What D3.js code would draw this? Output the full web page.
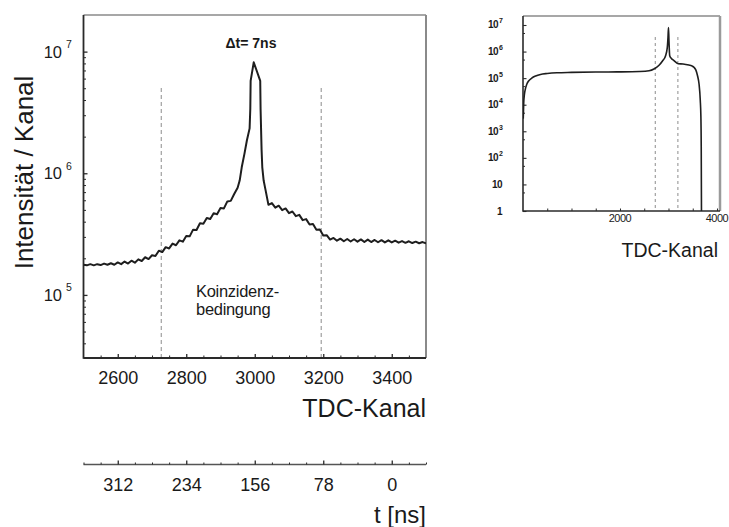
<!DOCTYPE html>
<html><head><meta charset="utf-8">
<script src="https://cdn.jsdelivr.net/npm/d3@7"></script>
<style>
html,body{margin:0;padding:0;background:#fff;}
svg text{font-family:"Liberation Sans",Arial,Helvetica,sans-serif;fill:#1a1a1a;}
</style></head>
<body><svg id="c" width="729" height="527"></svg>
<script>
// ---------- data ----------
const mainChannels = [2500,2510,2520,2530,2540,2550,2560,2570,2580,2590,2600,2610,2620,2630,2640,2650,2660,2670,2680,2690,2700,2710,2720,2730,2740,2750,2760,2770,2780,2790,2800,2810,2820,2830,2840,2850,2860,2870,2880,2890,2900,2910,2920,2930,2940,2950,2956,2962,2970,2977,2985,2987,2988,2997,3016,3017,3020,3022,3026,3031,3040,3050,3060,3070,3080,3090,3100,3110,3120,3130,3140,3150,3160,3170,3180,3190,3200,3210,3220,3230,3240,3250,3260,3270,3280,3290,3300,3310,3320,3330,3340,3350,3360,3370,3380,3390,3400,3410,3420,3430,3440,3450,3460,3470,3480,3490,3500];
const mainCounts = [1.77e5,1.75e5,1.79e5,1.75e5,1.79e5,1.76e5,1.81e5,1.77e5,1.82e5,1.77e5,1.85e5,1.79e5,1.88e5,1.81e5,1.91e5,1.84e5,1.96e5,1.90e5,2.04e5,1.97e5,2.12e5,2.09e5,2.31e5,2.25e5,2.47e5,2.41e5,2.64e5,2.56e5,2.81e5,2.74e5,3.05e5,3.03e5,3.44e5,3.42e5,3.88e5,3.84e5,4.29e5,4.21e5,4.70e5,4.61e5,5.18e5,5.14e5,5.87e5,5.93e5,6.76e5,7.60e5,8.71e5,1.12e6,1.45e6,1.86e6,2.34e6,3.39e6,5.75e6,8.17e6,5.75e6,3.39e6,1.55e6,1.12e6,8.71e5,7.41e5,5.50e5,5.69e5,5.21e5,5.41e5,4.98e5,5.14e5,4.70e5,4.85e5,4.44e5,4.55e5,4.12e5,4.20e5,3.79e5,3.83e5,3.43e5,3.45e5,3.08e5,3.10e5,2.85e5,2.94e5,2.79e5,2.90e5,2.76e5,2.88e5,2.75e5,2.87e5,2.74e5,2.86e5,2.72e5,2.85e5,2.72e5,2.83e5,2.71e5,2.82e5,2.70e5,2.81e5,2.70e5,2.79e5,2.69e5,2.77e5,2.68e5,2.76e5,2.67e5,2.74e5,2.66e5,2.72e5,2.65e5];

const insetChannels = [5,15,30,50,80,120,180,260,360,500,700,1000,1500,2000,2400,2600,2700,2800,2880,2940,2975,2990,3000,3010,3025,3060,3100,3200,3300,3420,3480,3530,3565,3600,3630,3655,3668,3675,3680];
const insetCounts = [3.0e3,1.2e4,2.5e4,4.0e4,6.0e4,8.0e4,1.0e5,1.2e5,1.38e5,1.5e5,1.6e5,1.65e5,1.7e5,1.72e5,1.78e5,1.9e5,2.2e5,3.0e5,4.5e5,7.0e5,1.4e6,3.5e6,8.0e6,2.5e6,7.0e5,5.5e5,4.8e5,3.5e5,3.4e5,3.1e5,2.9e5,2.5e5,2.0e5,1.2e5,6.0e4,1.5e4,3.5e3,2.6e2,1];

const cutChannels = [2727, 3194];           // Koinzidenzbedingung
const xTickLabels = [2600, 2800, 3000, 3200, 3400];
const yDecades = [5, 6, 7];
const timeTicks = [312, 234, 156, 78, 0];    // t [ns]
const insetYDecades = [0, 1, 2, 3, 4, 5, 6, 7];
const insetXTickLabels = [2000, 4000];

// ---------- layout ----------
const svg = d3.select("#c");
const M = {l: 83.5, r: 426, t: 15, b: 358};
const x = d3.scaleLinear().domain([2500, 3500]).range([M.l, M.r]);
const y = d3.scaleLog().domain([3.03e4, 2.0e7]).range([M.b, M.t]);
const tScale = d3.scaleLinear().domain([351, -39]).range([M.l, M.r]);

const I = {l: 523, r: 720, t: 16, b: 211};
const xi = d3.scaleLinear().domain([0, 4062]).range([I.l, I.r]);
const yi = d3.scaleLog().domain([1, 2.18e7]).range([I.b, I.t]);

const dark = "#2a2a2a";

function styleAxis(g, w) {
  g.select(".domain").remove();
  g.selectAll(".tick line").attr("stroke", dark).attr("stroke-width", w || 1);
}

// ---------- main plot ----------
svg.append("defs").append("clipPath").attr("id", "clipMain")
  .append("rect").attr("x", M.l).attr("y", M.t).attr("width", M.r - M.l).attr("height", M.b - M.t);
svg.select("defs").append("clipPath").attr("id", "clipInset")
  .append("rect").attr("x", I.l).attr("y", I.t).attr("width", I.r - I.l).attr("height", I.b - I.t);

// dashed cut lines
svg.append("g").selectAll("line").data(cutChannels).join("line")
  .attr("x1", d => x(d)).attr("x2", d => x(d))
  .attr("y1", 88).attr("y2", M.b)
  .attr("stroke", "#8c8c8c").attr("stroke-width", 1).attr("stroke-dasharray", "4,3");

// minor x ticks
const xMinor = d3.range(2550, 3500, 50).filter(v => !xTickLabels.includes(v));
const gxm = svg.append("g").attr("transform", `translate(0,${M.b})`)
  .call(d3.axisBottom(x).tickValues(xMinor).tickSize(-2.5).tickFormat(""));
styleAxis(gxm);
const gx = svg.append("g").attr("transform", `translate(0,${M.b})`)
  .call(d3.axisBottom(x).tickValues(xTickLabels).tickSize(-4).tickPadding(13).tickFormat(d3.format("d")));
styleAxis(gx, 1.3);
gx.selectAll("text").attr("font-size", 18).attr("fill", dark);

// y ticks
const yMinor = [];
[4, 5, 6].forEach(e => [2,3,4,5,6,7,8,9].forEach(m => { const v = m * Math.pow(10, e); if (v >= 3.03e4 && v <= 2e7) yMinor.push(v); }));
const gym = svg.append("g").attr("transform", `translate(${M.l},0)`)
  .call(d3.axisLeft(y).tickValues(yMinor).tickSize(-2.5).tickFormat(""));
styleAxis(gym);
const gy = svg.append("g").attr("transform", `translate(${M.l},0)`)
  .call(d3.axisLeft(y).tickValues(yDecades.map(e => Math.pow(10, e))).tickSize(-4).tickFormat(""));
styleAxis(gy, 1.3);
yDecades.forEach(e => {
  svg.append("text").attr("x", 62).attr("y", y(Math.pow(10, e)) + 6)
    .attr("text-anchor", "end").attr("font-size", 16.5).text("10");
  svg.append("text").attr("x", 66).attr("y", y(Math.pow(10, e)) - 3.5)
    .attr("font-size", 10.5).text(e);
});

// frame
svg.append("line").attr("x1", M.l).attr("x2", M.r).attr("y1", M.t).attr("y2", M.t).attr("stroke", "#8a8a8a").attr("stroke-width", 1.6);
svg.append("line").attr("x1", M.r).attr("x2", M.r).attr("y1", M.t).attr("y2", M.b).attr("stroke", "#8a8a8a").attr("stroke-width", 2);
svg.append("line").attr("x1", M.l).attr("x2", M.l).attr("y1", M.t).attr("y2", M.b + 0.8).attr("stroke", dark).attr("stroke-width", 1.8);
svg.append("line").attr("x1", M.l).attr("x2", M.r).attr("y1", M.b).attr("y2", M.b).attr("stroke", dark).attr("stroke-width", 1.8);

// curve
const mainData = d3.zip(mainChannels, mainCounts);
svg.append("path").datum(mainData)
  .attr("clip-path", "url(#clipMain)")
  .attr("fill", "none").attr("stroke", "#1e1e1e").attr("stroke-width", 2).attr("stroke-linejoin", "round")
  .attr("d", d3.line().x(d => x(d[0])).y(d => y(d[1])));

// annotations
svg.append("text").attr("x", 251).attr("y", 47.5).attr("text-anchor", "middle").attr("font-size", 14)
  .attr("font-weight", "bold").text("Δt= 7ns");
svg.append("text").attr("x", 196).attr("y", 297).attr("font-size", 16.5).attr("letter-spacing", -0.3).text("Koinzidenz-");
svg.append("text").attr("x", 196).attr("y", 315).attr("font-size", 16.5).attr("letter-spacing", -0.3).text("bedingung");

// axis titles
svg.append("text").attr("x", M.r).attr("y", 417).attr("text-anchor", "end").attr("font-size", 25).text("TDC-Kanal");
svg.append("text").attr("transform", `translate(33,172.5) rotate(-90)`).attr("text-anchor", "middle")
  .attr("font-size", 26).text("Intensität / Kanal");

// time axis
const tY = 464.5;
svg.append("line").attr("x1", M.l).attr("x2", M.r).attr("y1", tY).attr("y2", tY).attr("stroke", "#555").attr("stroke-width", 1.5);
const tMinor = d3.range(-39, 352, 19.5).map(v => +v.toFixed(1)).filter(v => !timeTicks.includes(v));
const gtm = svg.append("g").attr("transform", `translate(0,${tY})`)
  .call(d3.axisBottom(tScale).tickValues(tMinor).tickSize(-2).tickFormat(""));
styleAxis(gtm);
const gt = svg.append("g").attr("transform", `translate(0,${tY})`)
  .call(d3.axisBottom(tScale).tickValues(timeTicks).tickSize(-4).tickPadding(14).tickFormat(d3.format("d")));
styleAxis(gt, 1.3);
gt.selectAll("text").attr("font-size", 18).attr("fill", dark);
svg.append("text").attr("x", M.r).attr("y", 523).attr("text-anchor", "end").attr("font-size", 24).text("t [ns]");

// ---------- inset ----------
svg.append("g").selectAll("line").data(cutChannels).join("line")
  .attr("x1", d => xi(d)).attr("x2", d => xi(d))
  .attr("y1", 37).attr("y2", I.b)
  .attr("stroke", "#8c8c8c").attr("stroke-width", 1).attr("stroke-dasharray", "3,3");

const gix = svg.append("g").attr("transform", `translate(0,${I.b})`)
  .call(d3.axisBottom(xi).tickValues(d3.range(500, 4001, 500)).tickSize(-2.5).tickFormat(""));
styleAxis(gix);
insetXTickLabels.forEach(v => {
  svg.append("text").attr("x", xi(v)).attr("y", 222).attr("text-anchor", "middle")
    .attr("font-size", 11).attr("letter-spacing", -0.5).text(v);
});
const giyMinor = [];
insetYDecades.slice(0, -1).forEach(e => giyMinor.push(5 * Math.pow(10, e)));
const giym = svg.append("g").attr("transform", `translate(${I.l},0)`)
  .call(d3.axisLeft(yi).tickValues(giyMinor).tickSize(-2).tickFormat(""));
styleAxis(giym);
const giy = svg.append("g").attr("transform", `translate(${I.l},0)`)
  .call(d3.axisLeft(yi).tickValues(insetYDecades.map(e => Math.pow(10, e))).tickSize(-3.5).tickFormat(""));
styleAxis(giy, 1.1);
insetYDecades.forEach(e => {
  const yy = yi(Math.pow(10, e));
  if (e >= 2) {
    svg.append("text").attr("x", 498).attr("y", yy + 3.5).attr("text-anchor", "end")
      .attr("font-size", 10).attr("font-weight", "bold").attr("letter-spacing", -0.5).text("10");
    svg.append("text").attr("x", 499).attr("y", yy - 1.5).attr("font-size", 7).attr("font-weight", "bold").text(e);
  } else {
    svg.append("text").attr("x", 502).attr("y", yy + 3.5).attr("text-anchor", "end")
      .attr("font-size", 10).attr("font-weight", "bold").attr("letter-spacing", -0.5).text(e === 1 ? "10" : "1");
  }
});

svg.append("line").attr("x1", I.l).attr("x2", I.r).attr("y1", I.t).attr("y2", I.t).attr("stroke", "#8a8a8a").attr("stroke-width", 1.4);
svg.append("line").attr("x1", I.r).attr("x2", I.r).attr("y1", I.t).attr("y2", I.b).attr("stroke", "#9a9a9a").attr("stroke-width", 2.5);
svg.append("line").attr("x1", I.l).attr("x2", I.l).attr("y1", I.t).attr("y2", I.b + 0.7).attr("stroke", dark).attr("stroke-width", 1.6);
svg.append("line").attr("x1", I.l).attr("x2", I.r).attr("y1", I.b).attr("y2", I.b).attr("stroke", dark).attr("stroke-width", 1.6);

const insetData = d3.zip(insetChannels, insetCounts);
svg.append("path").datum(insetData)
  .attr("clip-path", "url(#clipInset)")
  .attr("fill", "none").attr("stroke", "#1e1e1e").attr("stroke-width", 1.6).attr("stroke-linejoin", "round")
  .attr("d", d3.line().curve(d3.curveMonotoneX).x(d => xi(d[0])).y(d => yi(d[1])));

svg.append("text").attr("x", 718).attr("y", 257).attr("text-anchor", "end").attr("font-size", 19.5)
  .text("TDC-Kanal");
</script></body></html>
